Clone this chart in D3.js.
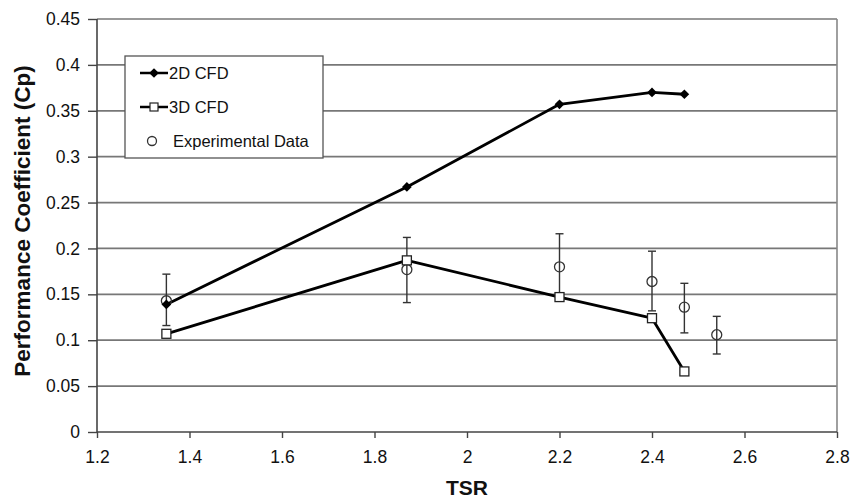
<!DOCTYPE html>
<html>
<head>
<meta charset="utf-8">
<script src="https://cdn.jsdelivr.net/npm/d3@7"></script>
<style>
  html, body { margin: 0; padding: 0; background: #fff; }
  svg text { font-family: "Liberation Sans", Arial, sans-serif; fill: #111; }
</style>
</head>
<body>
<svg id="chart" width="854" height="499"></svg>
<script>
// Rotor performance: Cp versus tip speed ratio
const xTicks = [1.2, 1.4, 1.6, 1.8, 2, 2.2, 2.4, 2.6, 2.8];
const yTicks = [0, 0.05, 0.1, 0.15, 0.2, 0.25, 0.3, 0.35, 0.4, 0.45];

const cfd2dTsr = [1.35, 1.87, 2.2, 2.4, 2.47];
const cfd2dCp  = [0.139, 0.267, 0.357, 0.370, 0.368];

const cfd3dTsr = [1.35, 1.87, 2.2, 2.4, 2.47];
const cfd3dCp  = [0.107, 0.187, 0.147, 0.124, 0.066];

const expTsr   = [1.35, 1.87, 2.2, 2.4, 2.47, 2.54];
const expCp    = [0.143, 0.177, 0.180, 0.164, 0.136, 0.106];
const expHigh  = [0.172, 0.212, 0.216, 0.197, 0.162, 0.126];
const expLow   = [0.116, 0.141, 0.147, 0.132, 0.108, 0.085];

const legendLabels = ["2D CFD", "3D CFD", "Experimental Data"];

const svg = d3.select("#chart");
const m = { left: 97, right: 837, top: 19, bottom: 432 };

const x = d3.scaleLinear().domain([1.2, 2.8]).range([m.left, m.right]);
const y = d3.scaleLinear().domain([0, 0.45]).range([m.bottom, m.top]);

// horizontal gridlines
svg.append("g").selectAll("line").data(yTicks.filter(v => v > 0)).join("line")
  .attr("x1", m.left).attr("x2", m.right)
  .attr("y1", d => y(d)).attr("y2", d => y(d))
  .attr("stroke", "#777").attr("stroke-width", 1.7);

// right frame edge
svg.append("line")
  .attr("x1", m.right).attr("x2", m.right).attr("y1", m.top).attr("y2", m.bottom)
  .attr("stroke", "#888").attr("stroke-width", 1.6);

// axes
const xAxis = d3.axisBottom(x).tickValues(xTicks).tickFormat(d3.format("")).tickSize(6).tickPadding(13);
const yAxis = d3.axisLeft(y).tickValues(yTicks).tickFormat(d3.format("")).tickSize(9).tickPadding(8);

const gx = svg.append("g").attr("transform", `translate(0,${m.bottom})`).call(xAxis);
const gy = svg.append("g").attr("transform", `translate(${m.left},0)`).call(yAxis);
[gx, gy].forEach(g => {
  g.select(".domain").attr("stroke", "#444").attr("stroke-width", 1.6);
  g.selectAll(".tick line").attr("stroke", "#444").attr("stroke-width", 1.4);
  g.selectAll(".tick text").style("font-size", "17.5px")
    .style("font-family", '"Liberation Sans", Arial, sans-serif').attr("fill", "#111");
});
gx.select(".domain").attr("d", `M${m.left},0H${m.right}`);
gy.select(".domain").attr("d", `M0,${m.bottom}V${m.top}`);

// axis titles
svg.append("text").attr("x", (m.left + m.right) / 2).attr("y", 495)
  .attr("text-anchor", "middle").style("font-size", "21px").style("font-weight", "bold").text("TSR");
svg.append("text").attr("transform", `translate(30,221) rotate(-90)`)
  .attr("text-anchor", "middle").style("font-size", "22.5px").style("font-weight", "bold")
  .text("Performance Coefficient (Cp)");

// experimental error bars
const expData = expTsr.map((t, i) => ({ t, cp: expCp[i], hi: expHigh[i], lo: expLow[i] }));
const eb = svg.append("g").attr("stroke", "#333").attr("stroke-width", 1.4);
eb.selectAll(".v").data(expData).join("line")
  .attr("x1", d => x(d.t)).attr("x2", d => x(d.t))
  .attr("y1", d => y(d.hi)).attr("y2", d => y(d.lo));
eb.selectAll(".ct").data(expData).join("line")
  .attr("x1", d => x(d.t) - 4).attr("x2", d => x(d.t) + 4)
  .attr("y1", d => y(d.hi)).attr("y2", d => y(d.hi));
eb.selectAll(".cb").data(expData).join("line")
  .attr("x1", d => x(d.t) - 4).attr("x2", d => x(d.t) + 4)
  .attr("y1", d => y(d.lo)).attr("y2", d => y(d.lo));

// series lines
const line = d3.line().x(d => x(d[0])).y(d => y(d[1]));
const s2d = cfd2dTsr.map((t, i) => [t, cfd2dCp[i]]);
const s3d = cfd3dTsr.map((t, i) => [t, cfd3dCp[i]]);
[s2d, s3d].forEach(s => svg.append("path").datum(s).attr("d", line)
  .attr("fill", "none").attr("stroke", "#000").attr("stroke-width", 2.8).attr("stroke-linejoin", "round"));

// experimental circles
svg.append("g").selectAll("circle").data(expData).join("circle")
  .attr("cx", d => x(d.t)).attr("cy", d => y(d.cp)).attr("r", 5)
  .attr("fill", "none").attr("stroke", "#333").attr("stroke-width", 1.3);

// 3D squares
svg.append("g").selectAll("rect").data(s3d).join("rect")
  .attr("x", d => x(d[0]) - 4.5).attr("y", d => y(d[1]) - 4.5)
  .attr("width", 9).attr("height", 9)
  .attr("fill", "#fff").attr("stroke", "#222").attr("stroke-width", 1.3);

// 2D diamonds
const diamond = d3.symbol().type(d3.symbolDiamond2).size(60);
svg.append("g").selectAll("path").data(s2d).join("path")
  .attr("transform", d => `translate(${x(d[0])},${y(d[1])})`)
  .attr("d", diamond).attr("fill", "#000");

// legend
const lg = svg.append("g");
lg.append("rect").attr("x", 125).attr("y", 56).attr("width", 198).attr("height", 102)
  .attr("fill", "#fff").attr("stroke", "#555").attr("stroke-width", 1.3);
const rows = [73, 107, 141];
legendLabels.forEach((lab, i) => {
  const yy = rows[i];
  if (i < 2) {
    lg.append("line").attr("x1", 140).attr("x2", 168).attr("y1", yy).attr("y2", yy)
      .attr("stroke", "#000").attr("stroke-width", 2.5);
  }
  if (i === 0) {
    lg.append("path").attr("transform", `translate(154,${yy})`).attr("d", diamond).attr("fill", "#000");
  } else if (i === 1) {
    lg.append("rect").attr("x", 150).attr("y", yy - 4).attr("width", 8).attr("height", 8)
      .attr("fill", "#fff").attr("stroke", "#222").attr("stroke-width", 1.2);
  } else {
    lg.append("circle").attr("cx", 152).attr("cy", yy).attr("r", 4.5)
      .attr("fill", "none").attr("stroke", "#333").attr("stroke-width", 1.3);
  }
  lg.append("text").attr("x", i < 2 ? 169 : 173).attr("y", yy + 6)
    .style("font-size", "16.5px").text(lab);
});
</script>
</body>
</html>
